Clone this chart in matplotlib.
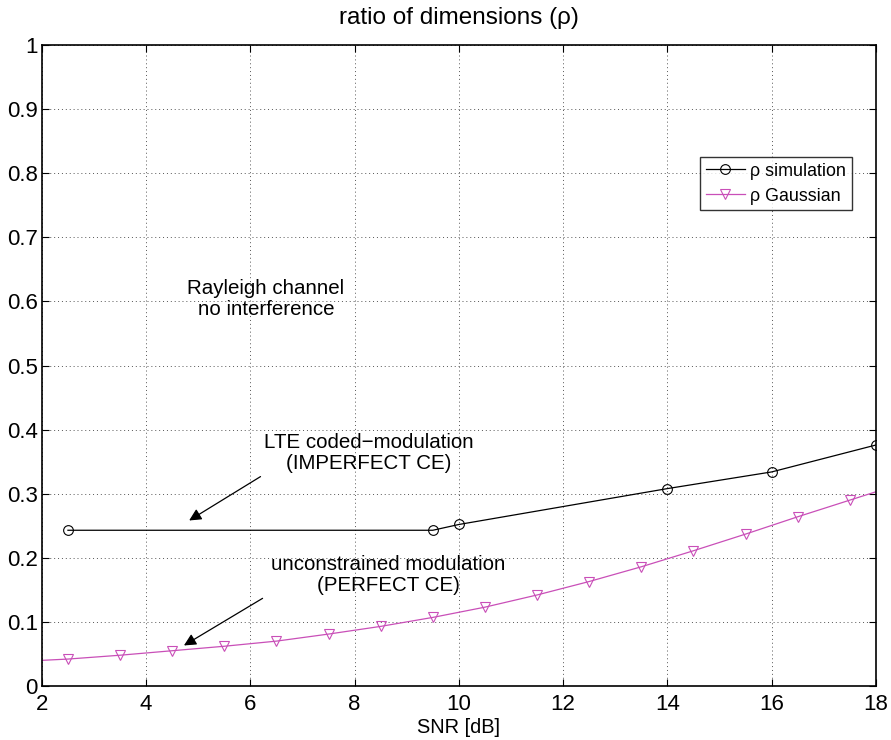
import numpy as np
import matplotlib.pyplot as plt

plt.rcParams['font.family'] = ['Liberation Sans', 'DejaVu Sans']

# rho from simulation (LTE coded-modulation, imperfect CE)
snr_sim = [2.5, 9.5, 10, 14, 16, 18]
rho_sim = [0.243, 0.243, 0.252, 0.308, 0.334, 0.376]

# rho Gaussian (unconstrained modulation, perfect CE)
snr_gauss = [2, 2.5, 3.5, 4.5, 5.5, 6.5, 7.5, 8.5, 9.5, 10.5, 11.5,
             12.5, 13.5, 14.5, 15.5, 16.5, 17.5, 18]
rho_gauss = [0.040, 0.042, 0.048, 0.055, 0.062, 0.070, 0.081, 0.093, 0.107,
             0.123, 0.142, 0.163, 0.186, 0.211, 0.237, 0.264, 0.290, 0.303]

x_ticks = [2, 4, 6, 8, 10, 12, 14, 16, 18]
y_ticks = [0, 0.1, 0.2, 0.3, 0.4, 0.5, 0.6, 0.7, 0.8, 0.9, 1]
y_labels = ['0', '0.1', '0.2', '0.3', '0.4', '0.5', '0.6', '0.7', '0.8', '0.9', '1']

magenta = '#c94fb8'

fig = plt.figure(figsize=(8.91, 7.40), dpi=100)
ax = fig.add_axes([0.047, 0.073, 0.936, 0.866])

ax.plot(snr_sim, rho_sim, color='black', lw=0.9, marker='o', ms=7,
        mfc='none', mec='black', mew=0.8, label=u'\u03c1 simulation')
ax.plot(snr_gauss, rho_gauss, color=magenta, lw=0.9, label='_nolegend_')
# markers only at the half-dB points
ax.plot(snr_gauss[1:-1], rho_gauss[1:-1], ls='none', marker='v', ms=7,
        mfc='none', mec=magenta, mew=0.8)
# legend proxy
ax.plot([], [], color=magenta, lw=0.9, marker='v', ms=7, mfc='none',
        mec=magenta, mew=0.8, label=u'\u03c1 Gaussian')

ax.set_xlim(2, 18)
ax.set_ylim(0, 1)
ax.set_xticks(x_ticks)
ax.set_xticklabels([str(t) for t in x_ticks])
ax.set_yticks(y_ticks)
ax.set_yticklabels(y_labels)
ax.tick_params(direction='in', top=True, right=True, labelsize=16, length=5)
ax.tick_params(axis='x', pad=6)
ax.tick_params(axis='y', pad=3)
ax.grid(True, ls=(0, (1, 3)), color='#555555', lw=0.7)
for s in ax.spines.values():
    s.set_linewidth(1.2)

ax.set_title(u'ratio of dimensions (\u03c1)', fontsize=17.5, pad=15)
ax.set_xlabel('SNR [dB]', fontsize=14.4, labelpad=2)

ax.text(6.3, 0.604, 'Rayleigh channel\nno interference', ha='center',
        va='center', fontsize=14.8, linespacing=1.1)
ax.text(8.27, 0.363, u'LTE coded\u2212modulation\n(IMPERFECT CE)', ha='center',
        va='center', fontsize=14.8, linespacing=1.15)
ax.text(8.64, 0.173, 'unconstrained modulation\n(PERFECT CE)', ha='center',
        va='center', fontsize=14.8, linespacing=1.15)

ax.annotate('', xy=(4.78, 0.256), xytext=(6.24, 0.329),
            arrowprops=dict(arrowstyle='-|>', color='black', lw=0.9,
                            mutation_scale=18))
ax.annotate('', xy=(4.68, 0.061), xytext=(6.28, 0.139),
            arrowprops=dict(arrowstyle='-|>', color='black', lw=0.9,
                            mutation_scale=18))

leg = ax.legend(loc='upper right', bbox_to_anchor=(0.971, 0.825), fontsize=12.9,
                frameon=True, fancybox=False, edgecolor='black',
                borderpad=0.3, handlelength=2.2, handletextpad=0.3,
                labelspacing=0.45, borderaxespad=0)
leg.get_frame().set_linewidth(1.0)

fig.savefig('out.png', dpi=100)
